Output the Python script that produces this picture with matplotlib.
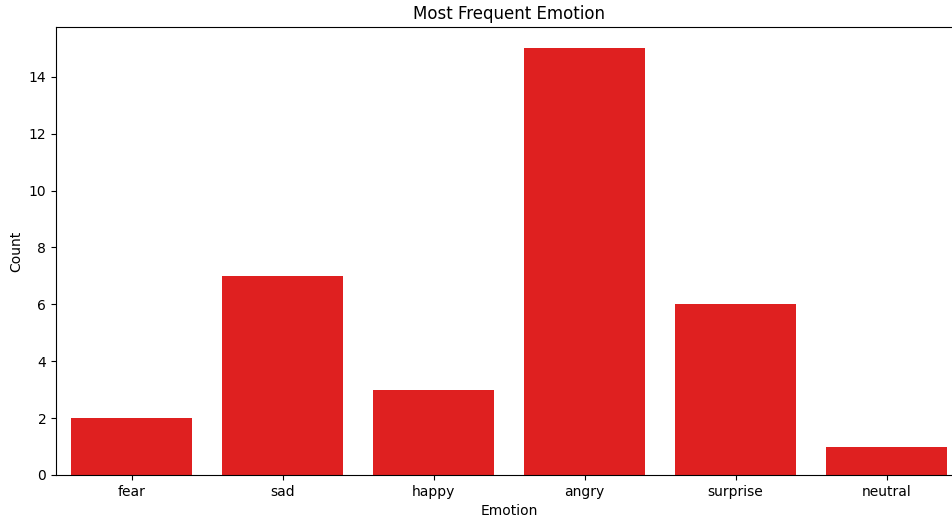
import matplotlib

matplotlib.use("Agg")
import matplotlib.pyplot as plt

emotions = ["fear", "sad", "happy", "angry", "surprise", "neutral"]
counts = [2, 7, 3, 15, 6, 1]

BAR_COLOR = "#df2020"

fig = plt.figure(figsize=(9.52, 5.17), dpi=100)
# the reference's axes run slightly past the right edge of the picture
ax = fig.add_axes([56 / 952, 1 - 475 / 517, 906 / 952, 448 / 517])

ax.bar(range(len(emotions)), counts, width=0.8, color=BAR_COLOR)
ax.set_xticks(range(len(emotions)))
ax.set_xticklabels(emotions)
ax.set_xlim(-0.5, len(emotions) - 0.5)
ax.set_ylim(0, 15.75)
ax.set_yticks(range(0, 15, 2))
ax.set_xlabel("Emotion")
ax.set_ylabel("Count")
ax.set_title("Most Frequent Emotion")

fig.savefig("out.png", dpi=100)
